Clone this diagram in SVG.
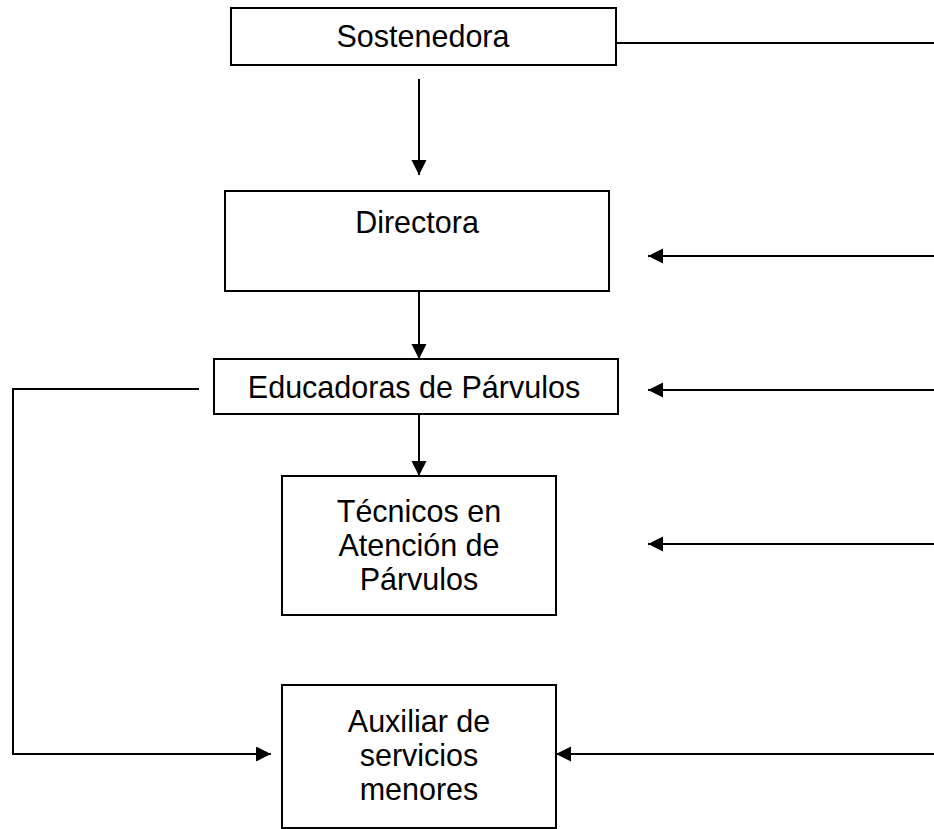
<svg xmlns="http://www.w3.org/2000/svg" width="934" height="829" viewBox="0 0 934 829">
  <defs>
    <marker id="ah" markerWidth="16" markerHeight="16" refX="15" refY="7.5" orient="auto" markerUnits="userSpaceOnUse">
      <path d="M0,0 L15,7.5 L0,15 Z" fill="#000"/>
    </marker>
  </defs>
  <style>
    .box { fill: #fff; stroke: #000; stroke-width: 2; }
    .lbl { font-family: "Liberation Sans", Arial, sans-serif; font-size: 30.5px; fill: #000; text-anchor: middle; }
    .con { fill: none; stroke: #000; stroke-width: 2; }
    .arr { fill: none; stroke: #000; stroke-width: 2; marker-end: url(#ah); }
  </style>
  <rect width="934" height="829" fill="#fff"/>
  <g id="connectors">
    <path class="con" d="M616,43 H934"/>
    <path class="arr" d="M419,79 V175"/>
    <path class="arr" d="M934,256 H648"/>
    <path class="arr" d="M419,291 V359"/>
    <path class="arr" d="M934,390 H648"/>
    <path class="con" d="M199,389 H13 V754"/>
    <path class="arr" d="M12,754 H271"/>
    <path class="arr" d="M419,414 V476"/>
    <path class="arr" d="M934,544 H648"/>
    <path class="arr" d="M934,754 H556"/>
  </g>
  <g id="sostenedora">
    <rect class="box" x="231" y="8" width="385" height="57"/>
    <text class="lbl" x="423" y="47">Sostenedora</text>
  </g>
  <g id="directora">
    <rect class="box" x="225" y="191" width="384" height="100"/>
    <text class="lbl" x="417" y="233">Directora</text>
  </g>
  <g id="educadoras">
    <rect class="box" x="214" y="359" width="404" height="55"/>
    <text class="lbl" x="414" y="398">Educadoras de Párvulos</text>
  </g>
  <g id="tecnicos">
    <rect class="box" x="282" y="476" width="274" height="139"/>
    <text class="lbl" x="419" y="522">Técnicos en</text>
    <text class="lbl" x="419" y="556">Atención de</text>
    <text class="lbl" x="419" y="590">Párvulos</text>
  </g>
  <g id="auxiliar">
    <rect class="box" x="282" y="685" width="274" height="143"/>
    <text class="lbl" x="419" y="732">Auxiliar de</text>
    <text class="lbl" x="419" y="766">servicios</text>
    <text class="lbl" x="419" y="800">menores</text>
  </g>
</svg>
